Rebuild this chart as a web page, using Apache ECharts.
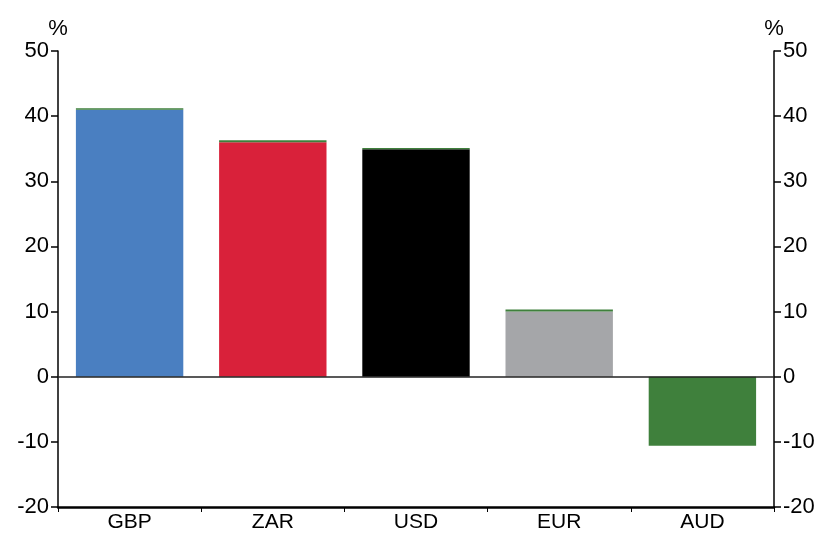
<!doctype html>
<html>
<head>
	<meta charset="utf-8">
	<title></title>
	<script src="https://cdn.jsdelivr.net/npm/echarts@6/dist/echarts.min.js"></script>
	<style>
		body { margin: 0; background: #fff; }
		#main { width: 815px; height: 533px; }
	</style>
</head>
<body>
	<div id="main"></div>
	<script type="text/javascript">
		var categories = ['GBP', 'ZAR', 'USD', 'EUR', 'AUD'];
		var baseValues = [41.0, 36.0, 34.9, 10.0, -10.6];
		var topValues = [0.2, 0.3, 0.2, 0.3, 0];
		var barColors = ['#4a7fc1', '#d9213a', '#000000', '#a5a6a9', '#3f803c'];
		var yTicks = { min: -20, max: 50, interval: 10 };

		var myChart = echarts.init(document.getElementById('main'));
		var font = 'Liberation Sans, Arial, sans-serif';

		var yAxisBase = {
			type: 'value',
			min: yTicks.min,
			max: yTicks.max,
			interval: yTicks.interval,
			name: '%',
			nameLocation: 'end',
			nameGap: 10,
			nameTextStyle: { color: '#000', fontSize: 22, fontFamily: font },
			axisLine: { show: true, lineStyle: { color: '#000', width: 1.5 } },
			axisTick: { show: true, length: 7, lineStyle: { color: '#000', width: 1.5 } },
			axisLabel: { color: '#000', fontSize: 22, fontFamily: font, margin: 9 },
			splitLine: { show: false }
		};

		var option = {
			animation: false,
			grid: { left: 58, right: 41, top: 51, bottom: 26, containLabel: false, outerBoundsMode: 'none' },
			xAxis: {
				type: 'category',
				data: categories,
				axisLine: { onZero: false, lineStyle: { color: '#000', width: 2.5 } },
				axisTick: { show: true, length: 5, lineStyle: { color: '#000', width: 1 } },
				axisLabel: { color: '#000', fontSize: 21, fontFamily: font, margin: 5 }
			},
			yAxis: [
				Object.assign({}, yAxisBase, { position: 'left' }),
				Object.assign({}, yAxisBase, { position: 'right' })
			],
			series: [
				{
					name: 'base',
					type: 'bar',
					stack: 'total',
					barCategoryGap: '25%',
					data: baseValues.map(function (v, i) {
						return { value: v, itemStyle: { color: barColors[i] } };
					}),
					markLine: {
						silent: true,
						symbol: 'none',
						label: { show: false },
						lineStyle: { color: '#222', width: 1.5, type: 'solid' },
						data: [{ yAxis: 0 }]
					}
				},
				{
					name: 'top',
					type: 'bar',
					stack: 'total',
					itemStyle: { color: '#3f803c' },
					data: topValues
				}
			]
		};

		myChart.setOption(option);
	</script>
</body>
</html>
